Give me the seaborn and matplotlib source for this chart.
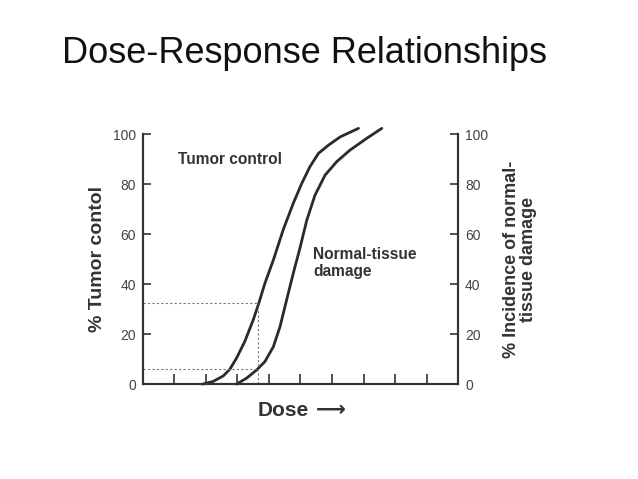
import seaborn as sns
import matplotlib.pyplot as plt

# 데이터
tumor_dose = [1.89, 2.23, 2.55, 2.76, 2.97, 3.23, 3.5, 3.66, 3.87, 4.14, 4.45,
              4.77, 5.04, 5.3, 5.57, 5.89, 6.26, 6.84]
tumor_pct = [0, 1.1, 3.3, 6.0, 10.4, 17, 25.7, 31.7, 40.3, 49.7, 61.7,
             72.3, 80.3, 87, 92.3, 95.6, 98.9, 102.3]
normal_dose = [2.97, 3.29, 3.61, 3.87, 4.14, 4.35, 4.56, 4.77, 4.98, 5.2, 5.46,
               5.78, 6.15, 6.57, 7.1, 7.58]
normal_pct = [0, 2.4, 5.7, 9, 15, 23, 33.7, 44.3, 54.3, 65.6, 75.6,
              83.6, 89, 93.6, 98.3, 102.3]
marker_dose = 3.66
marker_tumor = 32.4
marker_normal = 6
y_ticks = [0, 20, 40, 60, 80, 100]

sns.set_style('white')
plt.rcParams['font.family'] = ['Liberation Sans', 'DejaVu Sans']

fig = plt.figure(figsize=(6.38, 4.79), dpi=100)
ax = fig.add_axes([0.224, 0.198, 0.494, 0.522])
ax2 = ax.twinx()

sns.lineplot(x=tumor_dose, y=tumor_pct, ax=ax, color='#2a2a2a', lw=2, clip_on=False, sort=False)
sns.lineplot(x=normal_dose, y=normal_pct, ax=ax, color='#2a2a2a', lw=2, clip_on=False, sort=False)

# 점선
ax.hlines(marker_tumor, 0, marker_dose, colors='#777', linestyles=(0, (2, 2)), lw=0.8)
ax.hlines(marker_normal, 0, marker_dose, colors='#777', linestyles=(0, (2, 2)), lw=0.8)
ax.vlines(marker_dose, 0, marker_tumor, colors='#777', linestyles=(0, (2, 2)), lw=0.8)

ax.set_xlim(0, 10)
ax.set_ylim(0, 100)
ax2.set_ylim(0, 100)
ax.set_xticks(range(1, 10))
ax.set_xticklabels([])
ax.set_yticks(y_ticks)
ax2.set_yticks(y_ticks)
ax.tick_params(axis='x', bottom=True, direction='in', length=7, width=1.2, color='#333')
ax.tick_params(axis='y', left=True, right=False, direction='in', length=6, width=1.2,
               color='#333', labelsize=10, labelcolor='#444', pad=5)
ax2.tick_params(axis='y', right=True, left=False, direction='in', length=6, width=1.2,
                color='#333', labelsize=10, labelcolor='#444', pad=5)

for a in (ax, ax2):
    a.spines['top'].set_visible(False)
    for s in ('left', 'right', 'bottom'):
        a.spines[s].set_color('#333')
        a.spines[s].set_linewidth(1.5)

ax.text(1.11, 89.9, 'Tumor control', fontsize=11.2, fontweight='bold', color='#333', va='center')
ax.text(5.41, 48.5, 'Normal-tissue\ndamage', fontsize=11.2, fontweight='bold', color='#333',
        va='center', linespacing=1.2)

ax.set_ylabel('% Tumor contol', fontsize=14, fontweight='bold', color='#333', labelpad=5)
ax2.set_ylabel('% Incidence of normal-\ntissue damage', fontsize=13, fontweight='bold',
               color='#333', labelpad=11, linespacing=1.0)

# x축 제목 (Dose + 화살표)
ax.text(0.365, -0.105, 'Dose', transform=ax.transAxes, fontsize=15, fontweight='bold',
        color='#333', va='center')
ax.text(0.55, -0.105, '⟶', transform=ax.transAxes, fontsize=15, fontweight='bold',
        color='#333', va='center', family=['DejaVu Sans'])

fig.text(0.097, 0.868, 'Dose-Response Relationships', fontsize=26, color='#111', va='baseline')

plt.savefig('out.png', dpi=100)
